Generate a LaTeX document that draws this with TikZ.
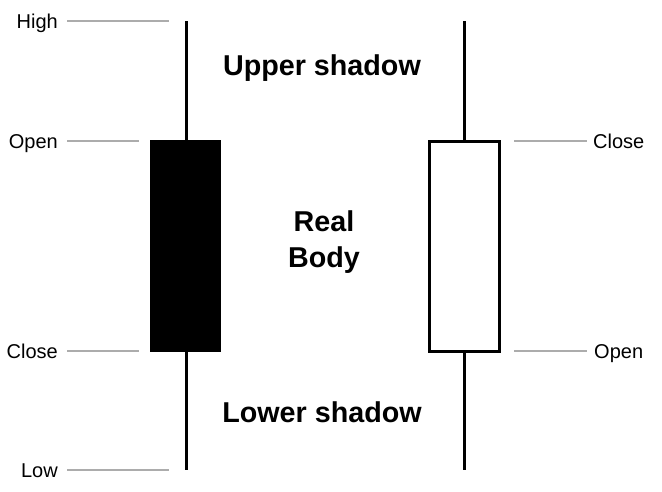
\documentclass[tikz,border=0pt]{standalone}
\usepackage{fontspec}
\setmainfont{Liberation Sans}
\usepackage{tikz}
\usetikzlibrary{positioning}

\begin{document}
\begin{tikzpicture}[x=1pt, y=-1pt,
  wick/.style={line width=3pt},
  guide/.style={draw=gray!65, line width=1.3pt},
  price/.style={font=\fontsize{20}{24}\selectfont, inner sep=0pt},
  part/.style={font=\fontsize{28.7}{36}\bfseries\selectfont, align=center, inner sep=0pt}]

\useasboundingbox (0,0) rectangle (662,491);

% Draw the bearish candle
\coordinate (lhigh) at (186,21);
\coordinate (llow) at (186,470);
\draw[wick] (lhigh) -- (llow);
\fill[black] (150,140) rectangle (221,352);

% Draw the bullish candle
\coordinate (rhigh) at (464,21);
\coordinate (rlow) at (464,470);
\draw[wick] (rhigh) -- (rlow);
\filldraw[fill=white, draw=black, line width=3pt] (429,141) rectangle (499,351);

% Place the price labels on the left
\node[price, anchor=base east] (high) at (58,28) {High};
\node[price, anchor=base east] (lopen) at (58,148) {Open};
\node[price, anchor=base east] (lclose) at (58,358) {Close};
\node[price, anchor=base east] (low) at (58,477) {Low};

% Place the price labels on the right
\node[price, anchor=base west] (rclose) at (593,148) {Close};
\node[price, anchor=base west] (ropen) at (594,358) {Open};

% Draw the guide lines
\coordinate (ghigh) at (169,21);
\coordinate (glopen) at (139,141);
\coordinate (glclose) at (139,351);
\coordinate (glow) at (169,470);
\coordinate (grclose) at (514,141);
\coordinate (gropen) at (514,351);
\draw[guide] (high.east |- ghigh) ++(9,0) -- (ghigh);
\draw[guide] (lopen.east |- glopen) ++(9,0) -- (glopen);
\draw[guide] (lclose.east |- glclose) ++(9,0) -- (glclose);
\draw[guide] (low.east |- glow) ++(9,0) -- (glow);
\draw[guide] (grclose) -- ([xshift=-6pt]rclose.west |- grclose);
\draw[guide] (gropen) -- ([xshift=-7pt]ropen.west |- gropen);

% Label the parts of the candle
\node[part] (upper) at (322,68) {Upper shadow};
\node[part] (body) at (324,242) {Real\\Body};
\node[part] (lower) at (322,412) {Lower shadow};

\end{tikzpicture}
\end{document}
